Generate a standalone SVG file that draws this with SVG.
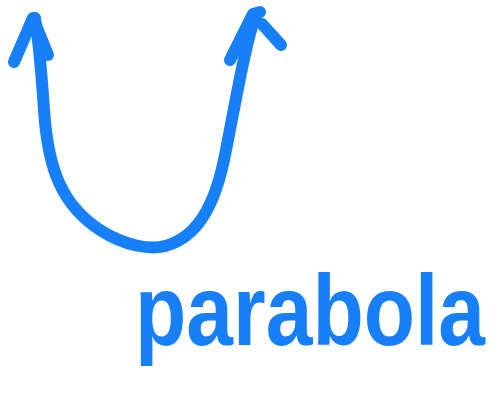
<svg xmlns="http://www.w3.org/2000/svg" width="495" height="399" viewBox="0 0 495 399">
<style>
.ink{fill:none;stroke:#177ff7;stroke-width:12;stroke-linecap:round;stroke-linejoin:round}
.lbl{fill:#177ff7;font-family:"Liberation Sans",Arial,sans-serif;font-weight:bold;font-size:100px}
</style>
<rect width="495" height="399" fill="#fff"/>
<g id="connectors">
<path class="ink" d="M35,18 C40,50 42,80 44,110 C48,170 62,205 100,230 C125,246 150,250 165,246 C195,238 215,210 226,150 C236,100 245,45 256,14"/>
<path class="ink" d="M14,62 L33,18 L48,55"/>
<path class="ink" d="M230,60 L253,14 L260,12 M262,24 L281,45"/>
</g>
<g id="label" transform="translate(135,345) scale(0.84,1)">
<text class="lbl" x="0" y="0">parabola</text>
</g>
</svg>
